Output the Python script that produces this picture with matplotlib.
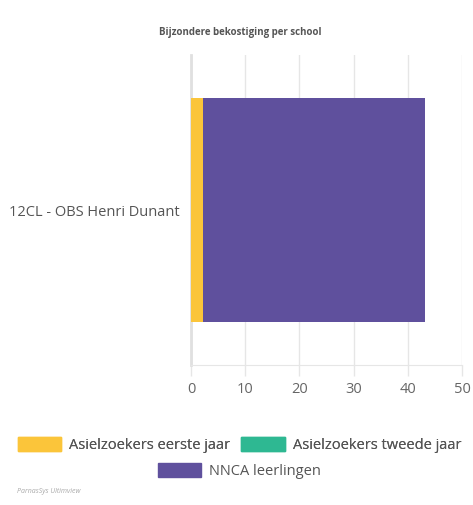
import numpy as np
import matplotlib.pyplot as plt
from matplotlib.patches import Patch

plt.rcParams['font.family'] = ['Open Sans', 'DejaVu Sans']

# data
schools = ["12CL - OBS Henri Dunant"]
series = ["Asielzoekers eerste jaar", "Asielzoekers tweede jaar", "NNCA leerlingen"]
values = {
    "Asielzoekers eerste jaar": [2.2],
    "Asielzoekers tweede jaar": [0],
    "NNCA leerlingen": [41.0],
}
colors = ["#FBC53A", "#2EB892", "#5F509D"]
xticks = [0, 10, 20, 30, 40, 50]

fig = plt.figure(figsize=(4.73, 5.05), dpi=100)
ax = fig.add_axes([0.4038, 0.277, 0.573, 0.614])

y = np.arange(len(schools))
left = np.zeros(len(schools))
handles = []
for name, col in zip(series, colors):
    vals = np.array(values[name])
    ax.barh(y, vals, left=left, height=0.72, color=col, zorder=3)
    left += vals
    handles.append(Patch(facecolor=col, edgecolor=col))

ax.set_xlim(0, 50)
ax.set_ylim(-0.5, 0.5)
ax.set_xticks(xticks)
ax.set_yticks(y)
ax.set_yticklabels(schools)
ax.tick_params(axis='x', colors='#e6e6e6', labelcolor='#666666', labelsize=10.5,
               length=8, width=1, pad=4)
ax.tick_params(axis='y', length=0, labelcolor='#555555', labelsize=10.5, pad=8)
ax.grid(axis='x', color='#e6e6e6', linewidth=1, zorder=0)
for s in ['top', 'right']:
    ax.spines[s].set_visible(False)
ax.spines['left'].set_color('#e0e0e0')
ax.spines['left'].set_linewidth(2)
ax.spines['bottom'].set_color('#e6e6e6')

fig.text(0.508, 0.936, "Bijzondere bekostiging per school", ha='center', va='center',
         fontsize=7, fontweight='bold', color='#555555')

leg_kw = dict(frameon=False, fontsize=10.5, handlelength=2.95, handleheight=1.1,
              handletextpad=0.55, labelcolor='#555555', borderpad=0, borderaxespad=0)
leg1 = fig.legend(handles[:2], series[:2], loc='center', bbox_to_anchor=(0.506, 0.119),
                  ncol=2, columnspacing=0.8, **leg_kw)
fig.add_artist(leg1)
fig.legend(handles[2:], series[2:], loc='center', bbox_to_anchor=(0.506, 0.067), **leg_kw)

fig.text(0.036, 0.024, "ParnasSys Ultimview", fontsize=5, style='italic', color='#aaaaaa')

fig.savefig("out.png", dpi=100, facecolor='white')
